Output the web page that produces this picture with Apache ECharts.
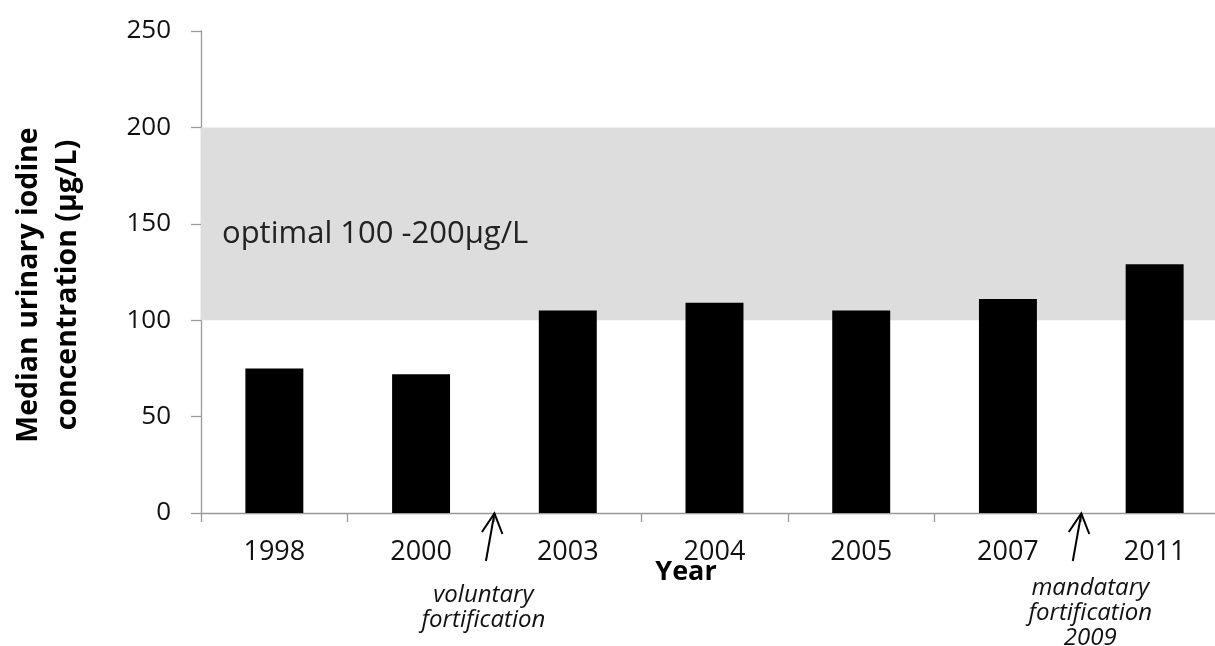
<!DOCTYPE html>
<html>
<head>
<meta charset="utf-8">
<script src="https://cdn.jsdelivr.net/npm/echarts@6/dist/echarts.min.js"></script>
<style>
html,body{margin:0;padding:0;background:#fff;overflow:hidden;}
#chart{width:1228px;height:646px;}
</style>
</head>
<body>
<div id="chart"></div>
<script>
// ---- data ----
const years = ['1998', '2000', '2003', '2004', '2005', '2007', '2011'];
const iodine = [75, 72, 105, 109, 105, 111, 129];
const optimalRange = [100, 200];
const optimalLabel = 'optimal 100 -200µg/L';
const yTitle = 'Median urinary iodine\nconcentration (µg/L)';
const xTitle = 'Year';
// annotation: arrow placed at the boundary after category index `after`
const noteAfter = [1, 5];
const noteText = ['voluntary\nfortification', 'mandatary\nfortification\n2009'];

const FONT = '"Open Sans", Lato, sans-serif';
const chart = echarts.init(document.getElementById('chart'));

chart.setOption({
  animation: false,
  backgroundColor: '#fff',
  grid: { left: 201, top: 31, bottom: 133, right: 0, containLabel: false },
  xAxis: {
    type: 'category',
    data: years,
    boundaryGap: true,
    name: xTitle,
    nameLocation: 'middle',
    nameGap: 46,
    nameMoveOverlap: false,
    nameTextStyle: { fontFamily: FONT, fontWeight: 'bold', fontSize: 27, color: '#000', padding: [0, 57, 0, 0] },
    axisLine: { lineStyle: { color: '#999', width: 1.3 } },
    axisTick: { show: true, length: 9, alignWithLabel: false, lineStyle: { color: '#999', width: 1.3 } },
    axisLabel: { fontFamily: FONT, fontSize: 27, color: '#111', margin: 26 },
    splitLine: { show: false }
  },
  yAxis: {
    type: 'value',
    min: 0, max: 250, interval: 50,
    name: yTitle,
    nameLocation: 'middle',
    nameRotate: 90,
    nameGap: 114,
    nameMoveOverlap: false,
    nameTextStyle: { fontFamily: FONT, fontWeight: 'bold', fontSize: 28.5, lineHeight: 39, color: '#000', align: 'center', padding: [0, 26, 0, 0] },
    axisLine: { show: true, lineStyle: { color: '#999', width: 1.3 } },
    axisTick: { show: true, length: 10, lineStyle: { color: '#999', width: 1.3 } },
    axisLabel: { fontFamily: FONT, fontSize: 26, color: '#111', margin: 30 },
    splitLine: { show: false }
  },
  series: [{
    type: 'bar',
    data: iodine,
    barWidth: '39.5%',
    itemStyle: { color: '#000' },
    markArea: {
      silent: true,
      itemStyle: { color: '#dddddd' },
      label: {
        show: true,
        position: [21, 91],
        fontFamily: FONT, fontSize: 31, color: '#222'
      },
      data: [[{ yAxis: optimalRange[0], name: optimalLabel }, { yAxis: optimalRange[1] }]]
    },
    z: 3
  }]
});

function drawNotes() {
  const gfx = [];
  const y0 = chart.convertToPixel({ yAxisIndex: 0 }, 0);
  const dxText = [-11, 9];
  const topText = [583, 576];
  noteAfter.forEach((idx, i) => {
    const a = chart.convertToPixel({ xAxisIndex: 0 }, idx);
    const b = chart.convertToPixel({ xAxisIndex: 0 }, idx + 1);
    const bx = (a + b) / 2;
    const tip = [bx, y0 + 0.5];
    gfx.push({
      type: 'polyline', z: 10,
      shape: { points: [[bx - 8.5, y0 + 48], tip] },
      style: { stroke: '#000', lineWidth: 2, fill: null }
    });
    gfx.push({
      type: 'polyline', z: 10,
      shape: { points: [[bx - 12.5, y0 + 19], tip, [bx + 8, y0 + 21]] },
      style: { stroke: '#000', lineWidth: 2, fill: null }
    });
    gfx.push({
      type: 'text', z: 10,
      x: bx + dxText[i], y: topText[i],
      style: {
        text: noteText[i], fontFamily: FONT, fontStyle: 'italic', fontSize: 24,
        lineHeight: 25, fill: '#111', align: 'center', verticalAlign: 'top'
      }
    });
  });
  chart.setOption({ graphic: gfx });
}
drawNotes();
</script>
</body>
</html>
